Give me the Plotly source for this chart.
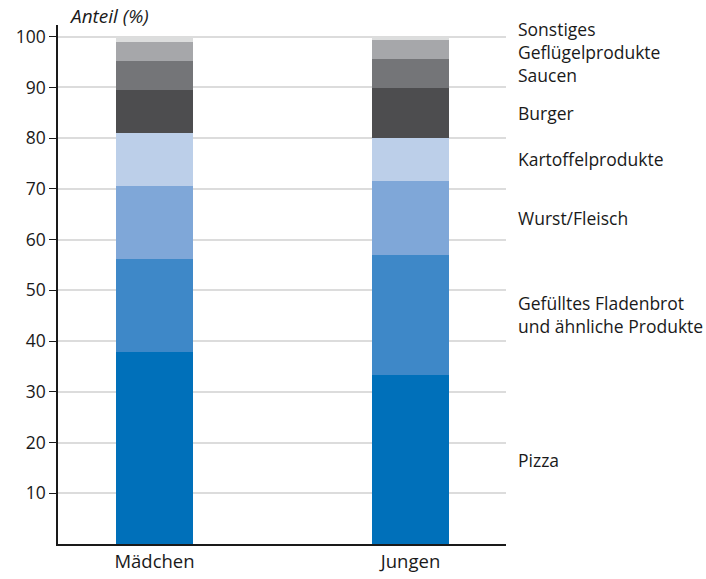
import plotly.graph_objects as go

groups = ["Mädchen", "Jungen"]
series = ["Pizza", "Gefülltes Fladenbrot<br>und ähnliche Produkte", "Wurst/Fleisch",
          "Kartoffelprodukte", "Burger", "Saucen", "Geflügelprodukte", "Sonstiges"]
maedchen = [37.8, 18.4, 14.4, 10.4, 8.5, 5.7, 3.8, 1.0]
jungen = [33.3, 23.7, 14.6, 8.4, 9.9, 5.7, 3.7, 0.7]
colors = ["#0070ba", "#3e88c8", "#7fa7d8", "#bccfe9", "#4d4d4f", "#747578", "#a6a7aa", "#dcdddd"]
yticks = [10, 20, 30, 40, 50, 60, 70, 80, 90, 100]

FONT = "Open Sans"
TXT = "#1a1a1a"

fig = go.Figure()
for name, m, j, c in zip(series, maedchen, jungen, colors):
    fig.add_trace(go.Bar(x=groups, y=[m, j], name=name, marker=dict(color=c, line=dict(width=0)),
                         width=0.3, showlegend=False))

# labels at the segment midpoints of the right bar; the three small top segments share one block
cum = 0
mids = []
for j in jungen:
    mids.append(cum + j / 2)
    cum += j
for name, mid in zip(series[:5], mids[:5]):
    fig.add_annotation(x=1.022, xref="paper", y=mid, yref="y", text=name, showarrow=False,
                       xanchor="left", yanchor="middle", align="left",
                       font=dict(family=FONT, size=17.5, color=TXT))
top_text = "<br>".join(reversed(series[5:]))
fig.add_annotation(x=1.022, xref="paper", y=mids[6], yref="y", text=top_text, showarrow=False,
                   xanchor="left", yanchor="middle", align="left", yshift=-2,
                   font=dict(family=FONT, size=17.5, color=TXT))

fig.add_annotation(x=0.02, xref="paper", y=1.017, yref="paper", text="<i>Anteil (%)</i>",
                   showarrow=False, xanchor="left", yanchor="middle",
                   font=dict(family=FONT, size=19, color=TXT))

fig.update_layout(
    barmode="stack",
    width=706, height=579,
    margin=dict(l=58, r=200, t=25, b=35, autoexpand=False),
    plot_bgcolor="white", paper_bgcolor="white",
    font=dict(family=FONT, size=17.5, color=TXT),
    bargap=0,
)
fig.update_xaxes(range=[-0.377, 1.373], showline=True, linecolor=TXT, linewidth=1.5,
                 ticks="", showgrid=False, tickfont=dict(size=18.5), automargin=False)
fig.update_yaxes(range=[0, 102.3], tickvals=yticks, showline=True, linecolor=TXT,
                 linewidth=1.5, ticks="outside", ticklen=7, tickcolor=TXT,
                 showgrid=True, gridcolor="#dcdcdc", gridwidth=1.5, zeroline=False,
                 tickfont=dict(size=17.5), automargin=False)

fig.write_html("out.html", config={"displayModeBar": False},
               post_script="document.body.style.margin='0';")
